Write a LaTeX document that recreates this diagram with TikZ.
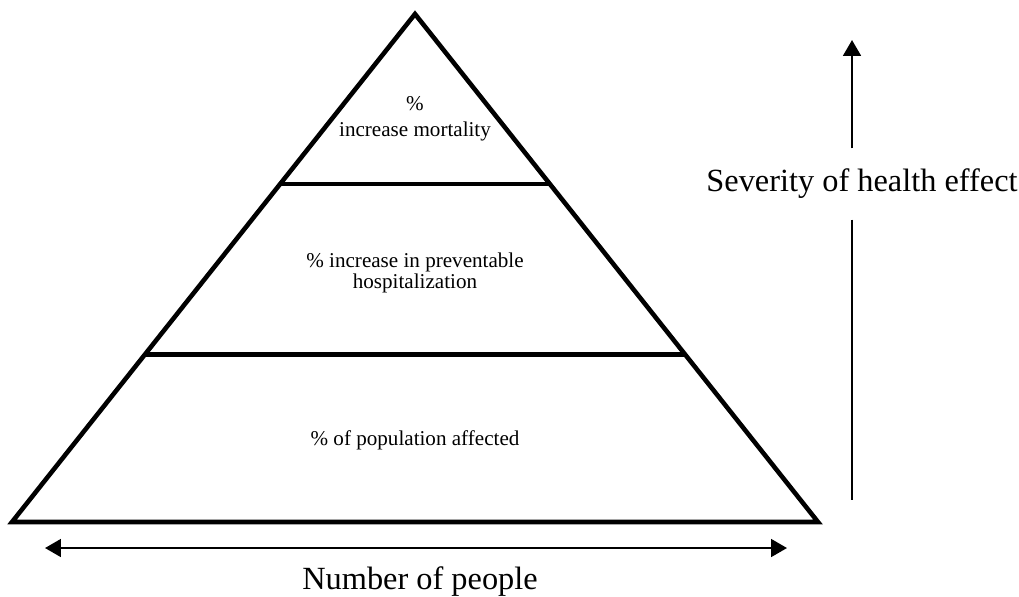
\documentclass[tikz,border=0pt]{standalone}
\usepackage{fontspec}
\setmainfont{Liberation Serif}
\usetikzlibrary{arrows.meta,calc}
\tikzset{
  tier/.style={line width=1.3pt},
  lbl/.style={align=center, font=\fontsize{6}{5.8}\selectfont},
  axislbl/.style={font=\fontsize{9.2}{11}\selectfont}
}
\begin{document}
\begin{tikzpicture}[x=0.01cm, y=-0.01cm, >={Triangle[length=4.5pt,width=5pt]}]
\useasboundingbox (0,0) rectangle (1019,596);
% pyramid
\coordinate (apex) at (415,14);
\coordinate (bl) at (12,522);
\coordinate (br) at (818,522);
\draw[tier, line join=miter] (apex) -- (bl) -- (br) -- cycle;
\draw[tier] ($(apex)!0.335!(bl)$) -- ($(apex)!0.335!(br)$);
\draw[tier] ($(apex)!0.67!(bl)$) -- ($(apex)!0.67!(br)$);
\node[lbl, font=\fontsize{6}{7.4}\selectfont] (mort) at (415,119) {\%\\increase mortality};
\node[lbl] (hosp) at (415,273) {\% increase in preventable\\hospitalization};
\node[lbl] (pop) at (415,440) {\% of population affected};
% axes
\coordinate (nl) at (45,548);
\coordinate (nr) at (787,548);
\draw[<->, line width=0.7pt] (nl) -- (nr);
\node[axislbl] (num) at (420,582) {Number of people};
\coordinate (up) at (852,40);
\coordinate (dn) at (852,500);
\node[axislbl, minimum height=0.7cm, inner sep=0pt] (sev) at (862,184) {Severity of health effect};
\draw[->, line width=0.75pt] (sev.north -| up) -- (up);
\draw[line width=0.75pt] (sev.south -| dn) -- (dn);
\end{tikzpicture}
\end{document}
